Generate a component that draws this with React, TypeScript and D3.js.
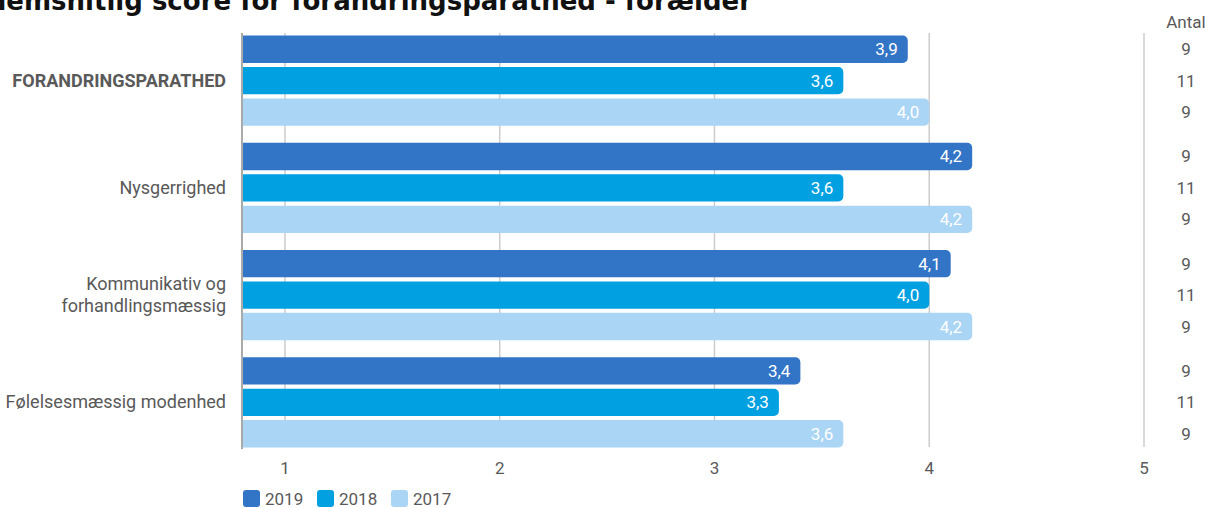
import * as d3 from 'd3';

const categories = ['FORANDRINGSPARATHED', 'Nysgerrighed', 'Kommunikativ og forhandlingsmæssig', 'Følelsesmæssig modenhed'];
const categoryLines = [['FORANDRINGSPARATHED'], ['Nysgerrighed'], ['Kommunikativ og', 'forhandlingsmæssig'], ['Følelsesmæssig modenhed']];
const years = ['2019', '2018', '2017'];
const values2019 = [3.9, 4.2, 4.1, 3.4];
const values2018 = [3.6, 3.6, 4.0, 3.3];
const values2017 = [4.0, 4.2, 4.2, 3.6];
const antal2019 = [9, 9, 9, 9];
const antal2018 = [11, 11, 11, 11];
const antal2017 = [9, 9, 9, 9];
const xTicks = [1, 2, 3, 4, 5];
const colors = ['#3274c6', '#00a0e1', '#aad5f5'];

const title = 'Gennemsnitlig score for forandringsparathed - forælder';

export default function App() {
    const width = 1211;
    const height = 508;

    const seriesValues = [values2019, values2018, values2017];
    const seriesAntal = [antal2019, antal2018, antal2017];

    const xScale = d3.scaleLinear().domain([0.8, 5]).range([242, 1144]);

    const yScale = d3
        .scaleBand()
        .domain(categories)
        .range([27, 456])
        .paddingInner(0.159)
        .paddingOuter(0.08);

    const inner = d3
        .scaleBand()
        .domain(years)
        .range([0, yScale.bandwidth()])
        .paddingInner(0.13)
        .paddingOuter(0);

    const fmt = (v) => d3.format('.1f')(v).replace('.', ',');

    // bar with rounded right end only
    const barPath = (x0, x1, y, h, r) => {
        const p = d3.path();
        p.moveTo(x0, y);
        p.lineTo(x1 - r, y);
        p.arcTo(x1, y, x1, y + r, r);
        p.lineTo(x1, y + h - r);
        p.arcTo(x1, y + h, x1 - r, y + h, r);
        p.lineTo(x0, y + h);
        p.closePath();
        return p.toString();
    };

    const font = 'Roboto, sans-serif';
    const txt = '#595959';

    return (
        <svg width={width} height={height} style={{ position: 'absolute', left: 0, top: 0 }}>
            <text x={752} y={10} textAnchor="end" fontFamily="'DejaVu Sans', Verdana, sans-serif" fontWeight="bold" fontSize={26} fill="#111">
                {title}
            </text>

            {xTicks.map((t) => (
                <g key={t}>
                    <line x1={xScale(t)} x2={xScale(t)} y1={33} y2={447} stroke="#cccccc" strokeWidth={1.5} />
                    <text x={xScale(t)} y={474} textAnchor="middle" fontFamily={font} fontSize={17} fill={txt}>
                        {t}
                    </text>
                </g>
            ))}
            <line x1={242} x2={242} y1={33} y2={449} stroke="#aaaaaa" strokeWidth={2} />

            {categories.map((c, ci) => {
                const y0 = yScale(c);
                const lines = categoryLines[ci];
                const mid = y0 + yScale.bandwidth() / 2;
                return (
                    <g key={c}>
                        {lines.map((ln, li) => (
                            <text
                                key={li}
                                x={226}
                                y={mid + 6 + (li - (lines.length - 1) / 2) * 22}
                                textAnchor="end"
                                fontFamily={font}
                                fontSize={18}
                                fontWeight={ci === 0 ? 'bold' : 'normal'}
                                fill={txt}
                            >
                                {ln}
                            </text>
                        ))}
                        {years.map((yr, si) => {
                            const v = seriesValues[si][ci];
                            const by = y0 + inner(yr);
                            const bh = inner.bandwidth();
                            return (
                                <g key={yr}>
                                    <path d={barPath(xScale(0.8) + 1, xScale(v), by, bh, 5)} fill={colors[si]} />
                                    <text x={xScale(v) - 10} y={by + bh / 2 + 6} textAnchor="end" fontFamily={font} fontSize={17} fill="#fff">
                                        {fmt(v)}
                                    </text>
                                    <text x={1186} y={by + bh / 2 + 6} textAnchor="middle" fontFamily={font} fontSize={17} fill={txt}>
                                        {seriesAntal[si][ci]}
                                    </text>
                                </g>
                            );
                        })}
                    </g>
                );
            })}

            <text x={1186} y={28} textAnchor="middle" fontFamily={font} fontSize={17} fill={txt}>
                Antal
            </text>

            {years.map((yr, si) => {
                const lx = [243, 317, 391][si];
                return (
                    <g key={yr}>
                        <rect x={lx} y={490} width={17} height={17} rx={3} fill={colors[si]} />
                        <text x={lx + 22} y={505} fontFamily={font} fontSize={17} fill={txt}>
                            {yr}
                        </text>
                    </g>
                );
            })}
        </svg>
    );
}
